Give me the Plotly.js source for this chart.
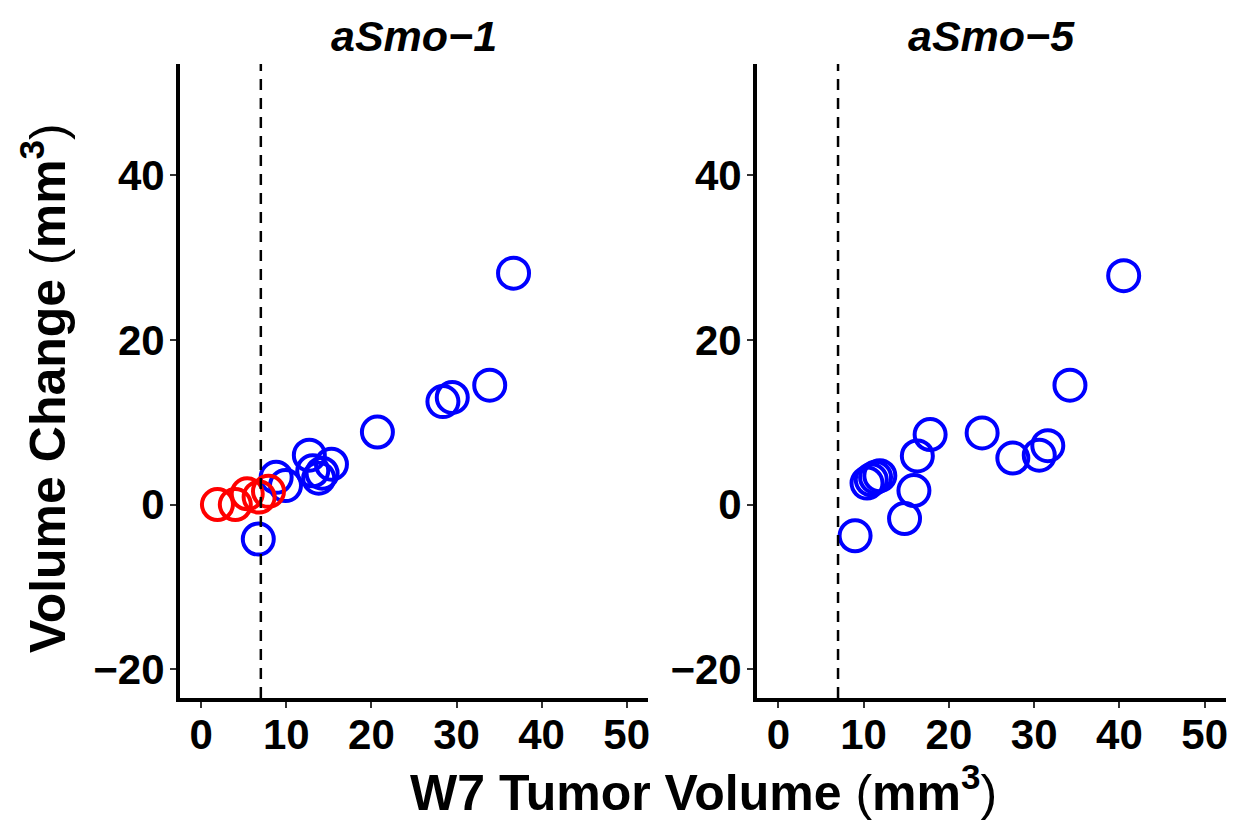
<!DOCTYPE html>
<html>
<head>
<meta charset="utf-8">
<script src="https://cdn.plot.ly/plotly-3.0.1.min.js"></script>
<style>
  html, body { margin: 0; padding: 0; background: #ffffff; }
  #chart { width: 1238px; height: 821px; }
</style>
</head>
<body>
<div id="chart"></div>
<script>
// Panel names
const panels = ["aSmo\u22121", "aSmo\u22125"];

// aSmo-1: tumours below the W7 threshold (red)
const smo1LowX = [1.9, 4.0, 5.4, 6.8, 7.9];
const smo1LowY = [0.0, 0.0, 1.3, 0.9, 1.6];

// aSmo-1: remaining tumours (blue)
const smo1HighX = [6.7, 8.8, 9.9, 12.7, 13.1, 14.2, 13.8, 15.3, 20.7, 28.4, 29.5, 33.9, 36.7];
const smo1HighY = [-4.2, 3.3, 2.3, 6.0, 4.1, 3.8, 3.2, 4.9, 8.8, 12.5, 13.0, 14.5, 28.1];

// aSmo-5: all tumours (blue)
const smo5X = [9.0, 10.4, 10.9, 11.4, 11.9, 14.8, 15.9, 16.3, 17.8, 23.9, 27.5, 30.6, 31.6, 34.2, 40.5];
const smo5Y = [-3.8, 2.6, 3.0, 3.3, 3.5, -1.7, 1.7, 5.9, 8.5, 8.7, 5.65, 6.0, 7.15, 14.5, 27.8];

// W7 volume cut-off drawn as a dashed reference line
const cutoff = 7;

// Axis ticks and limits
const xTicks = [0, 10, 20, 30, 40, 50];
const yTicks = [-20, 0, 20, 40];
const xRange = [-2.5, 52.5];
const yRange = [-23.5, 53.5];

const FONT = "Liberation Sans, Arial, Helvetica, sans-serif";
const TICK_FONT = { family: FONT, size: 42, color: "#000000", weight: "bold" };

function ring(x, y, color, xa, ya) {
  return {
    type: "scatter", mode: "markers", x: x, y: y, xaxis: xa, yaxis: ya,
    marker: { symbol: "circle-open", size: 31, color: color, line: { color: color, width: 4 } },
    hoverinfo: "x+y", showlegend: false
  };
}

const traces = [
  ring(smo1HighX, smo1HighY, "#0000FF", "x", "y"),
  ring(smo1LowX, smo1LowY, "#FF0000", "x", "y"),
  ring(smo5X, smo5Y, "#0000FF", "x2", "y2")
];

function xAxis(domain, anchor) {
  return {
    domain: domain, anchor: anchor, range: xRange, tickvals: xTicks,
    showgrid: false, zeroline: false,
    showline: true, linecolor: "#000000", linewidth: 4,
    ticks: "outside", ticklen: 6, tickwidth: 2, tickcolor: "#333333",
    ticklabelstandoff: -9,
    tickfont: TICK_FONT
  };
}
function yAxis(anchor) {
  return {
    domain: [0.1498, 0.922], anchor: anchor, range: yRange, tickvals: yTicks,
    tickformat: "d",
    showgrid: false, zeroline: false,
    showline: true, linecolor: "#000000", linewidth: 4,
    ticks: "outside", ticklen: 6, tickwidth: 2, tickcolor: "#333333",
    ticklabelstandoff: -3,
    tickfont: TICK_FONT
  };
}

const dashed = (xa, ya) => ({
  type: "line", xref: xa, yref: ya + " domain",
  x0: cutoff, x1: cutoff, y0: 0, y1: 1,
  line: { color: "#000000", width: 2.5, dash: "11px,8px" }
});

// Unit label with light parentheses around mm³
const unit = "<span style=\"font-weight:normal\">(</span>mm<sup>3</sup><span style=\"font-weight:normal\">)</span>";

const layout = {
  width: 1238, height: 821,
  margin: { l: 0, r: 0, t: 0, b: 0 },
  paper_bgcolor: "#ffffff", plot_bgcolor: "#ffffff",
  xaxis: xAxis([0.1454, 0.5234], "y"),
  yaxis: yAxis("x"),
  xaxis2: xAxis([0.6115, 0.9903], "y2"),
  yaxis2: yAxis("x2"),
  shapes: [dashed("x", "y"), dashed("x2", "y2")],
  annotations: [
    { text: "<i>" + panels[0] + "</i>", xref: "paper", yref: "paper",
      x: (0.1454 + 0.5234) / 2, y: 1 - 36 / 821, xanchor: "center", yanchor: "middle",
      showarrow: false, font: { family: FONT, size: 43, color: "#000000", weight: "bold" } },
    { text: "<i>" + panels[1] + "</i>", xref: "paper", yref: "paper",
      x: (0.6115 + 0.9903) / 2, y: 1 - 36 / 821, xanchor: "center", yanchor: "middle",
      showarrow: false, font: { family: FONT, size: 43, color: "#000000", weight: "bold" } },
    { text: "W7 Tumor Volume " + unit,
      xref: "paper", yref: "paper", x: 703 / 1238, y: 1 - 789 / 821,
      xanchor: "center", yanchor: "middle", showarrow: false,
      font: { family: FONT, size: 50, color: "#000000", weight: "bold" } },
    { text: "Volume Change " + unit,
      xref: "paper", yref: "paper", x: 44 / 1238, y: 1 - 388 / 821,
      xanchor: "center", yanchor: "middle", textangle: -90, showarrow: false,
      font: { family: FONT, size: 50, color: "#000000", weight: "bold" } }
  ]
};

Plotly.newPlot("chart", traces, layout, { displayModeBar: false, staticPlot: true });
</script>
</body>
</html>
